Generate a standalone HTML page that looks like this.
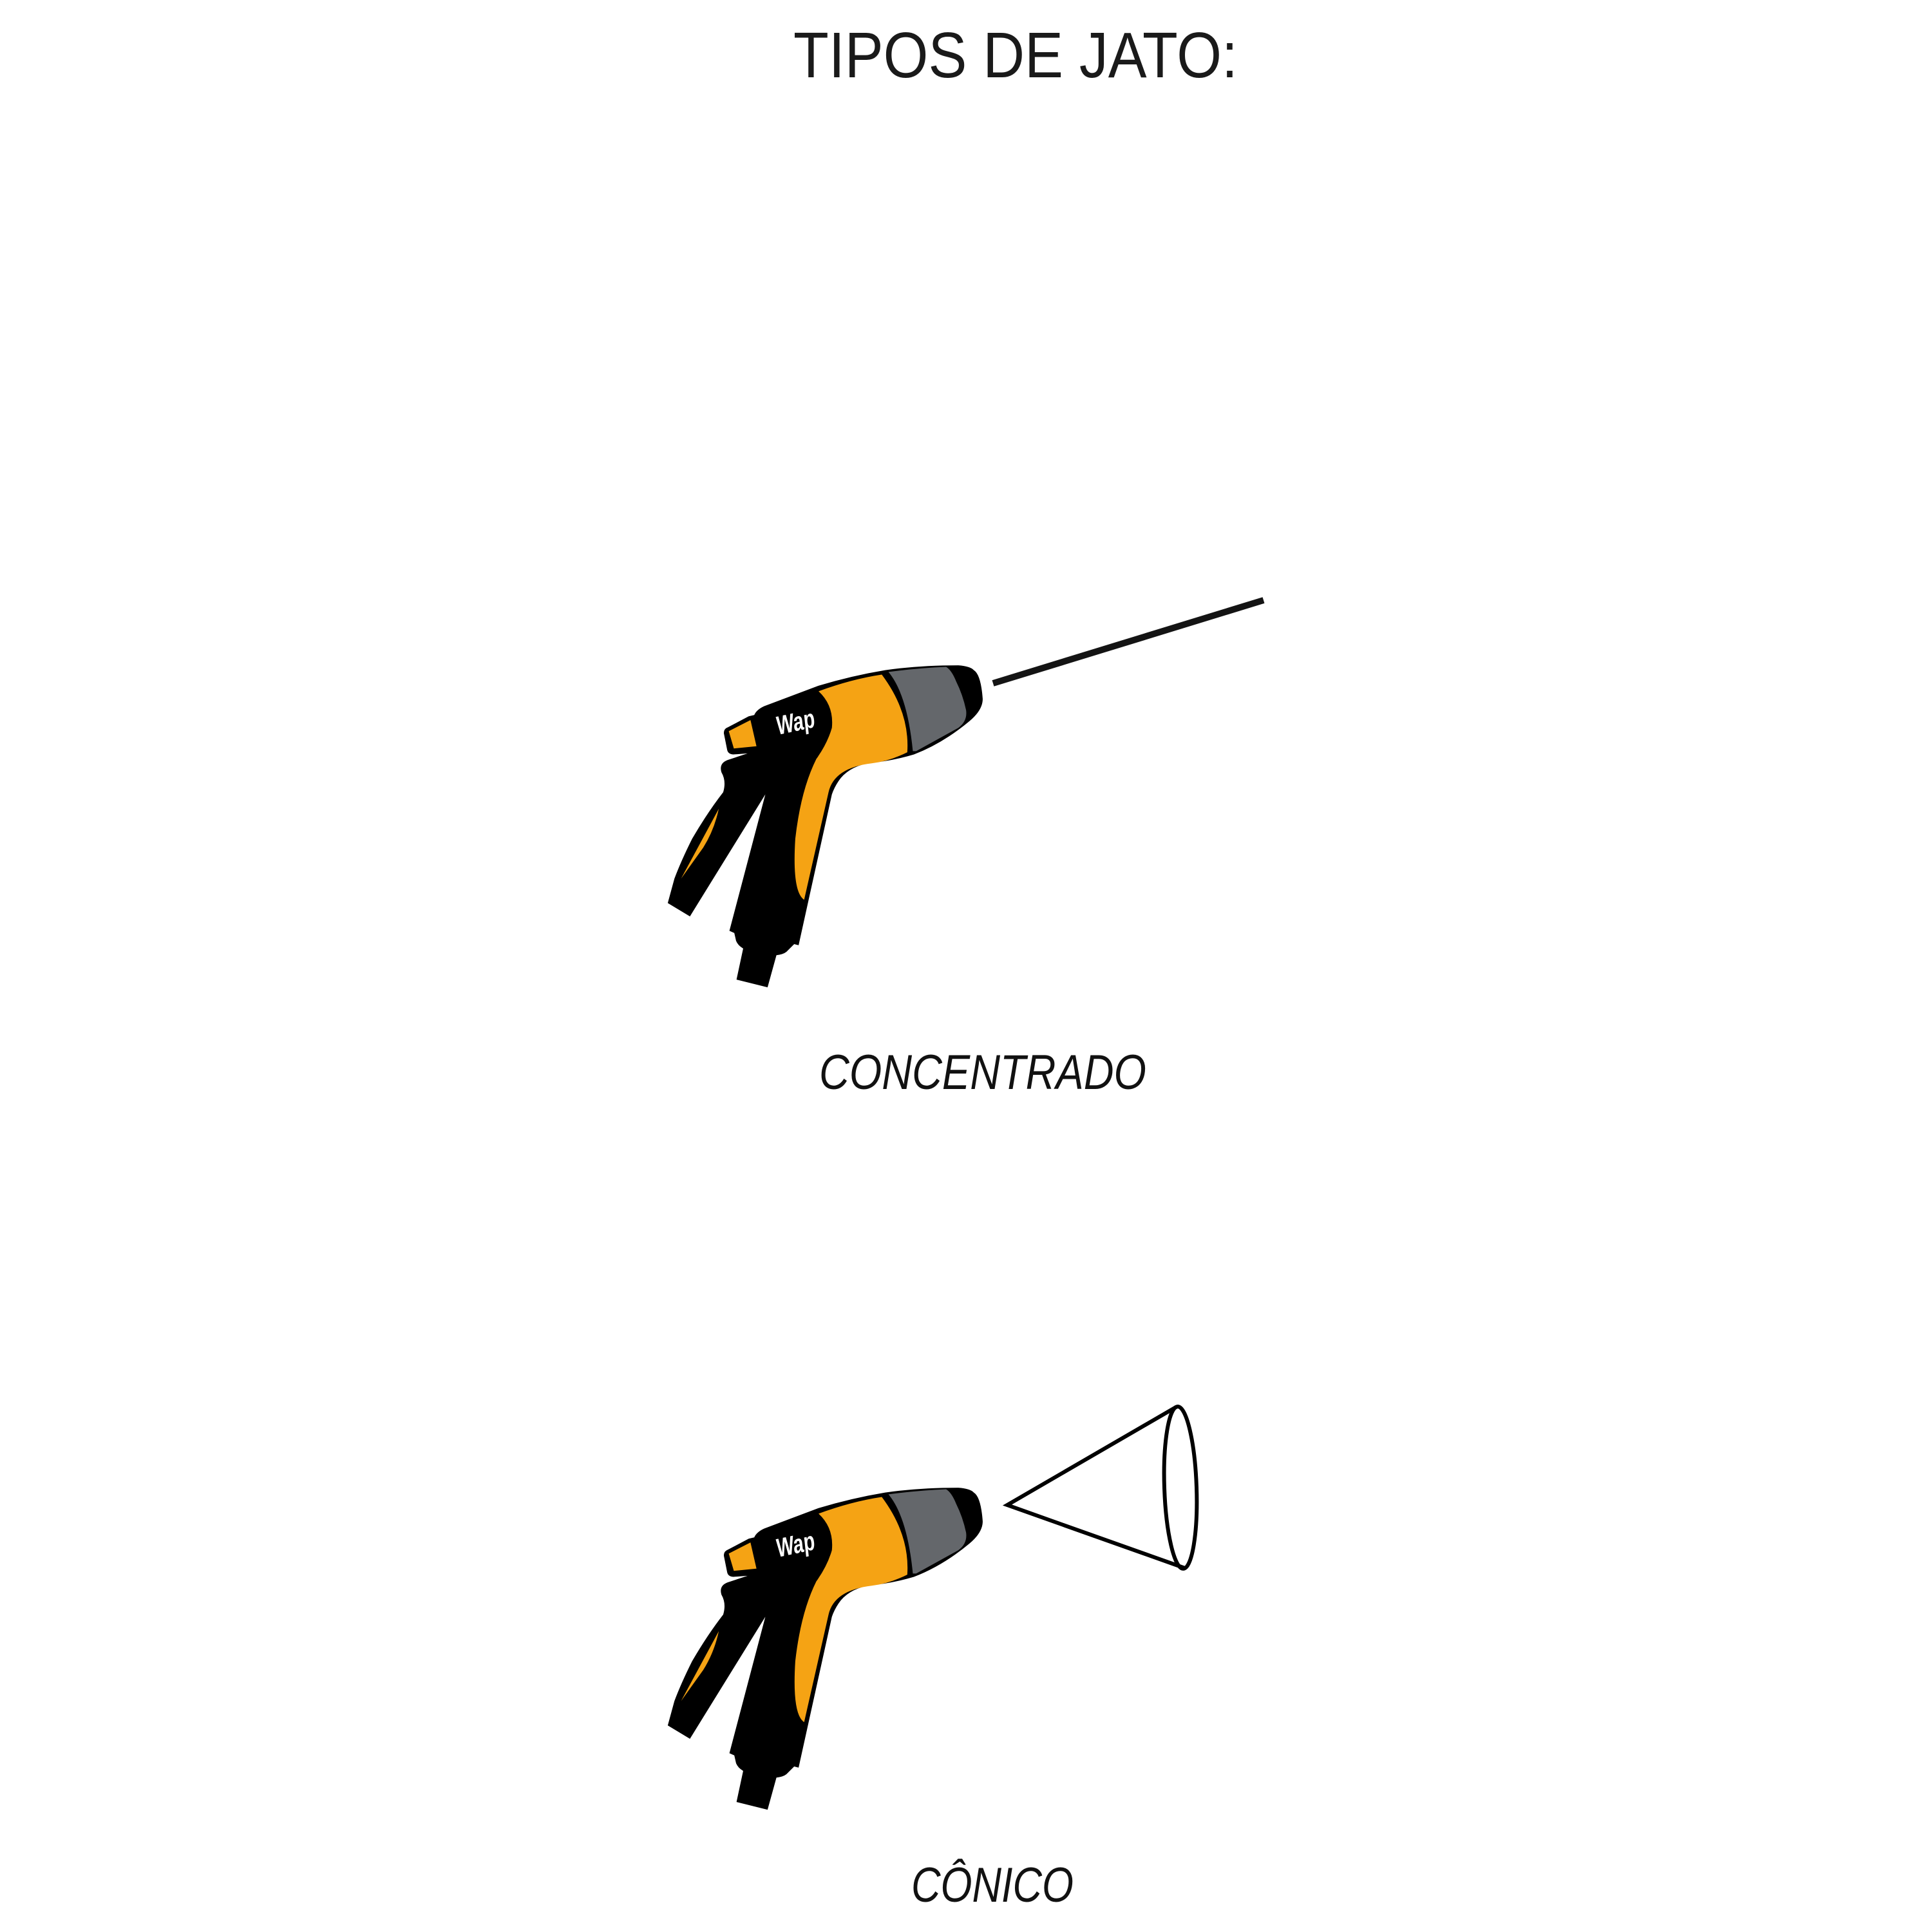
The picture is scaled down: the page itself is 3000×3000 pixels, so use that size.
<!DOCTYPE html>
<html><head><meta charset="utf-8"><style>html,body{margin:0;padding:0;background:#fff}svg{display:block}</style></head>
<body>
<svg width="3000" height="3000" viewBox="0 0 3000 3000" xmlns="http://www.w3.org/2000/svg">
<defs>
<g id="gun">
  <path fill="#000" d="M1400,60 Q1432,80 1440,190 Q1440,240 1380,290 Q1260,390 1130,440 Q1030,470 920,480 Q830,500 790,560 Q770,590 760,620 L610,1300 L590,1295 L555,1330 Q540,1342 510,1345 L470,1490 L330,1455 L360,1315 Q335,1300 328,1280 L320,1245 L298,1235 L460,620 L120,1170 L20,1110 L50,1000 Q80,920 130,820 Q200,700 270,610 Q285,560 262,520 Q250,480 290,465 L380,435 L315,440 Q292,438 288,420 L273,345 Q272,325 290,318 L385,268 L410,262 Q420,238 455,222 L700,130 Q850,85 1000,60 Q1150,38 1330,38 Q1385,42 1400,60 Z"/>
  <path fill="#f5a314" d="M250,685 L80,1000 L180,860 Q230,780 250,685 Z"/>
  <path fill="#f5a314" d="M295,335 L393,285 L420,403 L318,413 Z"/>
  <path fill="#f5a314" d="M700,155 Q770,220 760,320 Q740,390 690,460 Q620,600 595,820 Q580,1060 635,1095 L745,610 Q770,500 940,480 Q1020,470 1100,430 Q1112,250 985,80 Q850,100 700,155 Z"/>
  <path fill="#64676b" d="M1015,68 Q1100,170 1125,425 L1140,425 L1330,320 Q1372,290 1365,240 Q1350,170 1320,110 Q1300,60 1275,45 Q1150,50 1015,68 Z"/>
  <text x="0" y="0" transform="translate(515,352) rotate(-12) skewX(-6)" font-family="Liberation Sans, sans-serif" font-weight="bold" font-size="118" fill="#fff" textLength="175" lengthAdjust="spacingAndGlyphs">Wap</text>
</g>
</defs>

<text x="1232" y="120" font-family="Liberation Sans, sans-serif" font-size="100" fill="#1a1a1a" textLength="690" lengthAdjust="spacingAndGlyphs">TIPOS DE JATO:</text>

<g transform="translate(1030,1020) scale(0.3444)"><use href="#gun"/></g>
<line x1="1542" y1="1061" x2="1962" y2="932" stroke="#141414" stroke-width="10"/>

<text x="1272" y="1691" font-family="Liberation Sans, sans-serif" font-style="italic" font-size="76" fill="#111" textLength="508" lengthAdjust="spacingAndGlyphs">CONCENTRADO</text>

<g transform="translate(1030,2297) scale(0.3444)"><use href="#gun"/></g>
<path d="M1826,2185 L1564,2337 L1840,2435" fill="none" stroke="#000" stroke-width="6" stroke-linejoin="miter"/>
<ellipse cx="1833" cy="2310" rx="25" ry="126" fill="none" stroke="#000" stroke-width="6" transform="rotate(-2 1833 2310)"/>

<text x="1415" y="2953" font-family="Liberation Sans, sans-serif" font-style="italic" font-size="76" fill="#111" textLength="252" lengthAdjust="spacingAndGlyphs">CÔNICO</text>
</svg>
</body></html>
